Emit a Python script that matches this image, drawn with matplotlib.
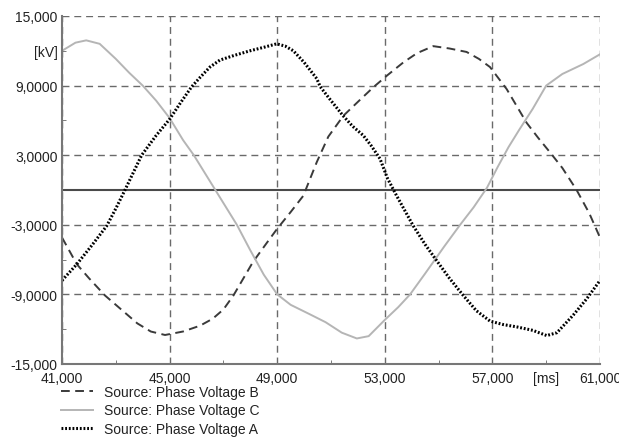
import numpy as np
import matplotlib
matplotlib.use('Agg')
import matplotlib.pyplot as plt
from matplotlib.ticker import FixedLocator

plt.rcParams['font.family'] = ['Liberation Sans', 'DejaVu Sans']

#phase voltage B (dashed)
tB = [41.0, 41.55, 42.0, 42.6, 43.2, 43.8, 44.3, 44.83, 45.5, 46.13, 46.6, 47.0,
      47.37, 48.1, 48.6, 48.98, 49.5, 49.97, 50.47, 50.9, 51.46, 52.0, 52.57,
      53.1, 53.69, 54.2, 54.8, 55.4, 56.04, 56.5, 56.91, 57.53, 58.27, 58.7,
      59.14, 59.6, 60.13, 60.6, 61.0]
vB = [-4.1, -6.4, -7.6, -9.1, -10.3, -11.5, -12.2, -12.5, -12.2, -11.7, -11.1,
      -10.3, -9.1, -6.2, -4.6, -3.4, -1.9, -0.5, 2.4, 4.6, 6.4, 7.6, 8.85, 9.9,
      11.0, 11.8, 12.4, 12.2, 11.9, 11.3, 10.6, 8.7, 5.8, 4.5, 3.25, 1.9, 0.0,
      -2.0, -4.1]

#phase voltage C (light solid)
tC = [41.0, 41.5, 41.9, 42.4, 43.0, 43.5, 44.0, 44.5, 45.0, 45.5, 45.9, 46.3,
      46.7, 47.1, 47.5, 48.0, 48.5, 49.0, 49.5, 50.2, 50.8, 51.4, 51.96, 52.4,
      53.0, 53.5, 53.94, 54.5, 55.2, 55.8, 56.3, 56.8, 57.2, 57.6, 58.0, 58.5,
      59.0, 59.6, 60.38, 61.0]
vC = [12.0, 12.7, 12.9, 12.6, 11.3, 10.1, 9.0, 7.7, 6.2, 4.3, 3.0, 1.5, 0.0,
      -1.5, -3.0, -5.2, -7.3, -9.0, -9.9, -10.7, -11.4, -12.3, -12.8, -12.6,
      -11.2, -10.1, -9.0, -7.2, -4.9, -3.0, -1.5, 0.2, 2.0, 3.7, 5.2, 7.0, 9.0,
      10.0, 10.86, 11.7]

#phase voltage A (dotted)
tA = [41.0, 41.55, 42.1, 42.66, 43.0, 43.34, 43.96, 44.5, 45.0, 45.4, 45.82,
      46.13, 46.5, 46.87, 47.4, 47.99, 48.5, 48.98, 49.3, 49.6, 50.0, 50.47,
      50.6, 51.0, 51.45, 51.8, 52.2, 52.5, 52.82, 53.1, 53.44, 54.06, 54.5,
      54.93, 55.4, 55.92, 56.4, 56.91, 57.4, 57.9, 58.5, 59.02, 59.4, 59.64,
      60.0, 60.5, 61.0]
vA = [-7.8, -6.4, -4.8, -3.1, -1.6, 0.0, 3.0, 4.7, 6.1, 7.5, 8.9, 9.7, 10.6,
      11.2, 11.6, 12.0, 12.3, 12.6, 12.4, 12.0, 11.0, 9.6, 8.9, 7.7, 6.4, 5.5,
      4.7, 3.8, 2.7, 1.0, -0.5, -3.1, -4.7, -6.1, -7.6, -9.1, -10.4, -11.3,
      -11.6, -11.8, -12.1, -12.55, -12.3, -11.7, -10.8, -9.4, -7.8]

xticks = [41, 45, 49, 53, 57, 61]
xticklabels = ['41,000', '45,000', '49,000', '53,000', '57,000', '61,000']
xminor = [43, 47, 51, 55, 59]
xminorlabels = ['', '', '', '', '[ms]']
yticks = [-15, -9, -3, 3, 9, 15]
yticklabels = ['-15,000', '-9,0000', '-3,0000', '3,0000', '9,0000', '15,000']
yminor = [-12, -6, 0, 6, 12]
yminorlabels = ['', '', '', '', '[kV]']

fig = plt.figure(figsize=(6.19, 4.39), dpi=100)
ax = fig.add_axes([0.1002, 0.1686, 0.8691, 0.7927])

#zero line
ax.axhline(0, color='#4a4a4a', lw=1.5, zorder=2)

lB, = ax.plot(tB, vB, color='#3a3a3a', lw=1.4, label='Source: Phase Voltage B', zorder=3)
lB.set_dashes((4.5, 2.8))
ax.plot(tC, vC, color='#b5b5b5', lw=1.4, label='Source: Phase Voltage C', zorder=3)
ax.plot(tA, vA, color='black', lw=2.2, linestyle=(0, (0.6, 0.6)),
        label='Source: Phase Voltage A', zorder=4)

ax.set_xlim(41, 61)
ax.set_ylim(-15, 15)
ax.set_xticks(xticks)
ax.set_xticklabels(xticklabels)
ax.xaxis.set_minor_locator(FixedLocator(xminor))
ax.set_xticklabels(xminorlabels, minor=True)
ax.set_yticks(yticks)
ax.set_yticklabels(yticklabels)
ax.yaxis.set_minor_locator(FixedLocator(yminor))
ax.set_yticklabels(yminorlabels, minor=True)

ax.tick_params(which='both', direction='in', labelsize=10, colors='#222222',
               length=0, pad=3)
ax.tick_params(which='minor', length=3, color='#666666')
ax.tick_params(axis='x', which='both', pad=5)

ax.grid(which='major', color='#6a6a6a', linestyle=(0, (5, 3.5)), lw=1.0)
for s in ['top', 'right']:
    ax.spines[s].set_visible(False)
for s in ['left', 'bottom']:
    ax.spines[s].set_color('#777777')
    ax.spines[s].set_linewidth(1.5)
    ax.spines[s].set_zorder(5)

leg = ax.legend(loc='upper left', bbox_to_anchor=(0.099, 0.12),
                bbox_transform=fig.transFigure, frameon=False, fontsize=10,
                handlelength=2.3, handletextpad=0.8, labelspacing=0.3,
                borderpad=0, borderaxespad=0)
for t in leg.get_texts():
    t.set_color('#222222')

plt.savefig('out.png', dpi=100)
